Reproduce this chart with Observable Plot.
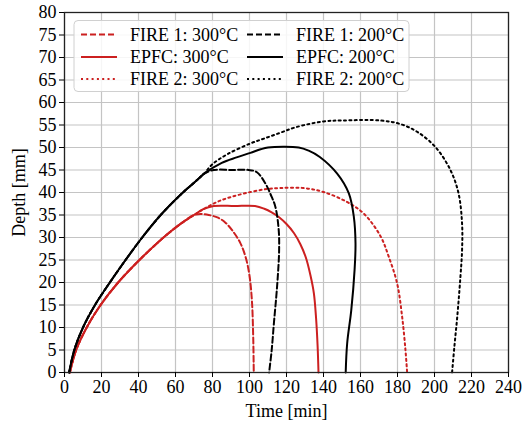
<!DOCTYPE html>
<html><head><meta charset="utf-8">
<script src="https://cdn.jsdelivr.net/npm/d3@7"></script>
<script src="https://cdn.jsdelivr.net/npm/@observablehq/plot@0.6"></script>
<style>body{margin:0;background:#fff}</style>
</head><body><div id="chart"></div>
<script>
const xTicks = [0,20,40,60,80,100,120,140,160,180,200,220,240];
const yTicks = [0,5,10,15,20,25,30,35,40,45,50,55,60,65,70,75,80];

const seriesNames = ["FIRE 1: 300°C","EPFC: 300°C","FIRE 2: 300°C","FIRE 1: 200°C","EPFC: 200°C","FIRE 2: 200°C"];
const seriesColors = ["#cc2020","#cc2020","#cc2020","#000000","#000000","#000000"];
const seriesDash = ["6,3","none","2,3.3","6,3","none","2,3.3"];

const fire1_300_t = [2.9,6.3,12,19.5,29,40.5,53.5,62,70,74,78,83,87,91,95,98,100,101.3,102,102.3];
const fire1_300_d = [0,5,10,15,20,25,30,32.8,35,35.2,35,34.4,33.3,31.4,28.8,25.5,21.5,16,8,0];
const epfc_300_t = [2.9,6.3,12,19.5,29,40.5,53.5,62,70,75,80.7,92,103,108,112,116,120,124,127.5,130.5,133,134.8,136,136.8,137.3];
const epfc_300_d = [0,5,10,15,20,25,30,32.8,35,36.3,37,37,37,36.4,35.6,34.5,33,31,28.5,25.5,21.5,17.6,12,6,0];
const fire2_300_t = [2.9,6.3,12,19.5,29,40.5,53.5,62,70,76,82.5,90,100.5,110,117,129,140,152.7,161.8,170.8,175.3,179.8,182.5,184.3,185.2];
const fire2_300_d = [0,5,10,15,20,25,30,32.8,35,36.5,37.9,39,40.1,40.8,41,41,40.1,37.9,35.3,30.3,25.7,19.8,12.4,5,0];
const fire1_200_t = [2.5,5.3,10,16.5,24.5,33,42,52,64,71.5,75.5,80.7,90,99.6,104,108.6,111.5,114,115.8,116,115.4,114.5,113.2,112,110.6];
const fire1_200_d = [0,5,10,15,20,25,30,35,40,42.7,44.2,45,45,45,44.5,42,39.5,36.8,31.6,27,22,17,11,5,0];
const epfc_200_t = [2.5,5.3,10,16.5,24.5,33,42,52,64,71.5,75.5,85,93,100.5,106,110,126.6,132,138,147.4,153.7,156.4,157.3,156.8,155,152.8,152];
const epfc_200_d = [0,5,10,15,20,25,30,35,40,42.7,44.2,46.6,47.8,48.8,49.6,50,50,49.3,47.9,44.2,39.8,34.6,28.7,22.8,13.8,6.5,0];
const fire2_200_t = [2.5,5.3,10,16.5,24.5,33,42,52,64,71.5,75.5,80,88,100.5,108,116.8,125,140,150,170.8,181.6,190.6,200.5,208.6,213,214.9,214.9,214,212.3,210.8,209.5];
const fire2_200_d = [0,5,10,15,20,25,30,35,40,42.7,44.2,46.3,48.5,50.9,52,53.3,54.5,55.8,56,56,55.2,53.5,50.1,45,39.8,33.1,27.2,21.2,12.4,6,0];

const seriesT = [fire1_300_t, epfc_300_t, fire2_300_t, fire1_200_t, epfc_200_t, fire2_200_t];
const seriesD = [fire1_300_d, epfc_300_d, fire2_300_d, fire1_200_d, epfc_200_d, fire2_200_d];

const font = "'Liberation Serif', 'Times New Roman', serif";

const lineMarks = seriesNames.map((name, i) => {
  const data = seriesT[i].map((t, j) => ({t, d: seriesD[i][j]}));
  return Plot.line(data, {x: "t", y: "d", stroke: seriesColors[i], strokeWidth: 2,
    strokeDasharray: seriesDash[i], curve: "catmull-rom"});
});

const chart = Plot.plot({
  width: 524, height: 421,
  marginLeft: 64, marginRight: 16, marginTop: 12, marginBottom: 49,
  style: {fontFamily: font, fontSize: "18px", color: "#000", background: "#fff"},
  x: {domain: [0, 240]},
  y: {domain: [0, 80]},
  marks: [
    Plot.gridX(xTicks, {stroke: "#c4c4c4", strokeOpacity: 1, strokeWidth: 1.2}),
    Plot.gridY(yTicks, {stroke: "#c4c4c4", strokeOpacity: 1, strokeWidth: 1.2}),
    ...lineMarks,
    Plot.frame({stroke: "#222", strokeWidth: 1.3}),
    Plot.axisX(xTicks, {tickSize: 5, tickPadding: 3, fontSize: 18, label: "Time [min]", labelAnchor: "center", labelArrow: "none", labelOffset: 44}),
    Plot.axisY(yTicks, {tickSize: 5, tickPadding: 3, fontSize: 18, label: "Depth [mm]", labelAnchor: "center", labelArrow: "none", labelOffset: 52})
  ]
});
document.getElementById("chart").appendChild(chart);

// legend
const svg = d3.select(chart);
const lg = svg.append("g").attr("font-family", font).attr("font-size", 18).attr("text-anchor", "start");
lg.append("rect").attr("x", 74).attr("y", 20.5).attr("width", 335).attr("height", 71)
  .attr("rx", 4).attr("fill", "#fff").attr("fill-opacity", 0.85).attr("stroke", "#d0d0d0");
const colX = [81, 247];
const rowY = [34.5, 57, 79];
seriesNames.forEach((name, i) => {
  const c = Math.floor(i / 3), r = i % 3;
  lg.append("line").attr("x1", colX[c]).attr("x2", colX[c] + 36).attr("y1", rowY[r]).attr("y2", rowY[r])
    .attr("stroke", seriesColors[i]).attr("stroke-width", 2).attr("stroke-dasharray", seriesDash[i]);
  lg.append("text").attr("x", colX[c] + 49).attr("y", rowY[r]).attr("dy", "0.35em")
    .attr("text-anchor", "start").attr("fill", "#000").text(name);
});
</script>
</body></html>
